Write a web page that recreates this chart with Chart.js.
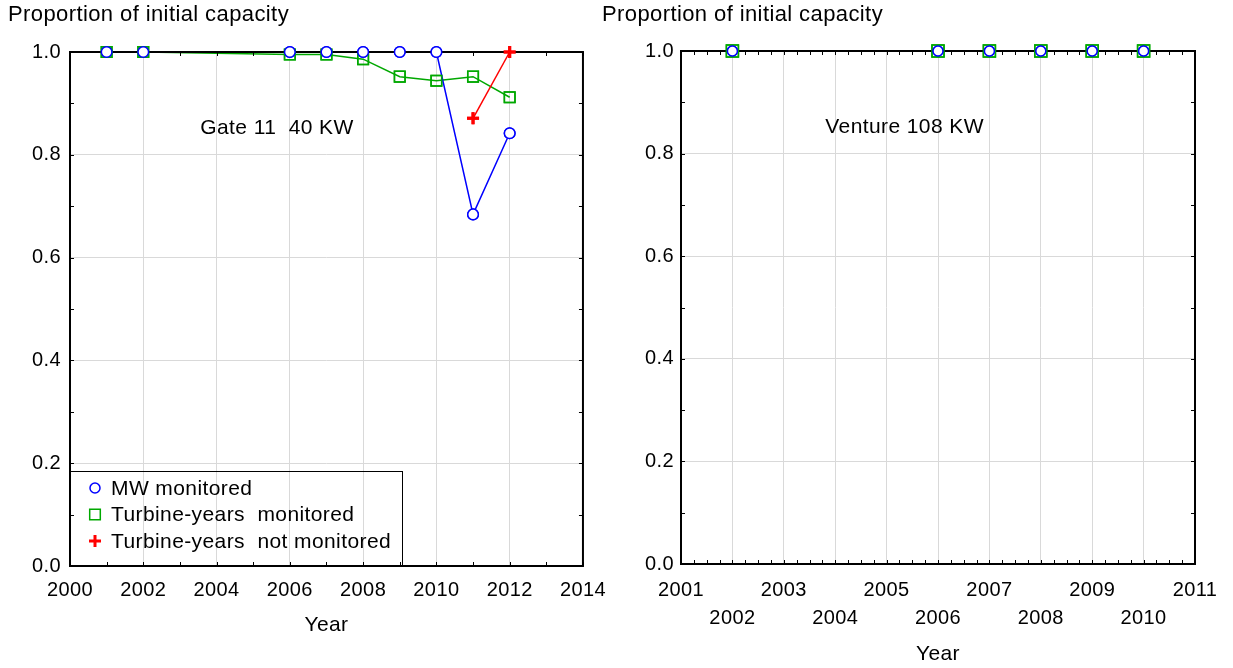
<!DOCTYPE html>
<html>
<head>
<meta charset="utf-8">
<script src="https://cdn.jsdelivr.net/npm/chart.js@4.4.1/dist/chart.umd.min.js"></script>
<style>
html, body { margin: 0; padding: 0; background: #fff; }
#wrap { position: relative; width: 1233px; height: 668px; overflow: hidden; }
#gateChart { position: absolute; left: 0; top: 0; }
#ventureChart { position: absolute; left: 600px; top: 0; }
</style>
</head>
<body>
<div id="wrap">
  <canvas id="gateChart" width="616" height="668"></canvas>
  <canvas id="ventureChart" width="633" height="668"></canvas>
</div>
<script>
// Data
const gateYears = [2001, 2002, 2006, 2007, 2008, 2009, 2010, 2011, 2012];
const gateMW = [1.0, 1.0, 1.0, 1.0, 1.0, 1.0, 1.0, 0.684, 0.842];
const gateTurbine = [1.0, 1.0, 0.995, 0.995, 0.986, 0.952, 0.944, 0.952, 0.912];
const gateNotMonYears = [2011, 2012];
const gateNotMon = [0.871, 1.0];

const ventureYears = [2002, 2006, 2007, 2008, 2009, 2010];
const ventureMW = [1.0, 1.0, 1.0, 1.0, 1.0, 1.0];
const ventureTurbine = [1.0, 1.0, 1.0, 1.0, 1.0, 1.0];

const yTicks = [0, 0.2, 0.4, 0.6, 0.8, 1.0];
const gateXTicks = [2000, 2002, 2004, 2006, 2008, 2010, 2012, 2014];
const ventureXTicks = [2001, 2002, 2003, 2004, 2005, 2006, 2007, 2008, 2009, 2010, 2011];

const seriesNames = ['MW monitored', 'Turbine-years  monitored', 'Turbine-years  not monitored'];
const yTitle = 'Proportion of initial capacity';
const xTitle = 'Year';
const gateNote = { text: 'Gate 11  40 KW', x: 2005.65, y: 0.852 };
const ventureNote = { text: 'Venture 108 KW', x: 2005.35, y: 0.852 };

const BLUE = '#0000ff';
const GREEN = '#00a800';
const RED = '#ff0000';
const GRID = '#d9d9d9';
const FONT = '"Liberation Sans", Arial, sans-serif';
const SPACING = '0.4px';

Chart.defaults.font.family = FONT;
Chart.defaults.font.size = 20;
Chart.defaults.color = '#000';

const pts = (xs, ys) => xs.map((x, i) => ({ x: x, y: ys[i] }));

function mwSet(xs, ys, r) {
    return {
        label: seriesNames[0], data: pts(xs, ys), order: 2, clip: false,
        borderColor: BLUE, borderWidth: 1.5, pointStyle: 'circle', pointRadius: r,
        pointBorderColor: BLUE, pointBackgroundColor: '#fff', pointBorderWidth: 1.5,
        legendRadius: 5
    };
}
function turbineSet(xs, ys, r) {
    return {
        label: seriesNames[1], data: pts(xs, ys), order: 3, clip: false,
        borderColor: GREEN, borderWidth: 1.5, pointStyle: 'rect', pointRadius: r,
        pointBorderColor: GREEN, pointBackgroundColor: 'rgba(255,255,255,0)', pointBorderWidth: 1.5,
        legendRadius: 7.5
    };
}
function notMonSet(xs, ys) {
    return {
        label: seriesNames[2], data: pts(xs, ys), order: 1, clip: false,
        borderColor: RED, borderWidth: 1.5, pointStyle: 'cross', pointRadius: 6,
        pointBorderColor: RED, pointBorderWidth: 3,
        legendRadius: 6
    };
}

// frame, minor ticks, titles, note and legend
const decor = {
    id: 'decor',
    beforeUpdate(chart) { chart.ctx.letterSpacing = SPACING; },
    beforeLayout(chart) { chart.ctx.letterSpacing = SPACING; },
    beforeDraw(chart) { chart.ctx.letterSpacing = SPACING; },
    afterDatasetsDraw(chart, args, opts) {
        const { ctx, chartArea: a } = chart;
        const x = chart.scales.x, y = chart.scales.y;
        ctx.save();
        ctx.strokeStyle = '#000';
        ctx.lineWidth = 1;
        ctx.beginPath();
        const nx = Math.round((x.max - x.min) / opts.xMinor);
        for (let i = 0; i <= nx; i++) {
            const px = Math.round(x.getPixelForValue(x.min + i * opts.xMinor)) + 0.5;
            ctx.moveTo(px, a.bottom); ctx.lineTo(px, a.bottom - 4);
            ctx.moveTo(px, a.top); ctx.lineTo(px, a.top + 4);
        }
        const ny = Math.round((y.max - y.min) / opts.yMinor);
        for (let i = 0; i <= ny; i++) {
            const py = Math.round(y.getPixelForValue(y.min + i * opts.yMinor)) + 0.5;
            ctx.moveTo(a.left, py); ctx.lineTo(a.left + 4, py);
            ctx.moveTo(a.right, py); ctx.lineTo(a.right - 4, py);
        }
        ctx.stroke();
        ctx.lineWidth = 2;
        ctx.strokeRect(a.left, a.top, a.right - a.left, a.bottom - a.top);
        ctx.restore();

        // markers sit on top of the frame
        const idx = chart.data.datasets.map((d, i) => i)
            .sort((i, j) => chart.data.datasets[j].order - chart.data.datasets[i].order);
        idx.forEach(i => chart.getDatasetMeta(i).data.forEach(p => p.draw(ctx)));
    },
    afterDraw(chart, args, opts) {
        const { ctx, chartArea: a } = chart;
        const x = chart.scales.x, y = chart.scales.y;
        ctx.save();
        ctx.letterSpacing = SPACING;
        ctx.fillStyle = '#000';
        ctx.textBaseline = 'middle';

        ctx.font = '22px ' + FONT;
        ctx.textAlign = 'left';
        ctx.fillText(yTitle, opts.titleX, 15);

        ctx.font = '21px ' + FONT;
        ctx.textAlign = 'center';
        ctx.fillText(opts.note.text, x.getPixelForValue(opts.note.x), y.getPixelForValue(opts.note.y));

        if (opts.legend) {
            const bw = 332, bh = 95;
            const bx = a.left, by = a.bottom - bh;
            ctx.strokeStyle = '#000';
            ctx.lineWidth = 1;
            ctx.strokeRect(bx + 0.5, by + 0.5, bw, bh);
            ctx.textAlign = 'left';
            chart.data.datasets.forEach((d, i) => {
                const cy = by + 17 + i * 26.5;
                ctx.strokeStyle = d.pointBorderColor;
                ctx.fillStyle = 'rgba(255,255,255,0)';
                ctx.lineWidth = d.pointBorderWidth;
                Chart.helpers.drawPoint(ctx, {
                    pointStyle: d.pointStyle, radius: d.legendRadius,
                    borderWidth: d.pointBorderWidth, rotation: 0
                }, bx + 25, cy);
                ctx.fillStyle = '#000';
                ctx.fillText(d.label, bx + 41, cy + 1);
            });
        }
        ctx.restore();
    }
};

function makeOptions(cfg) {
    return {
        responsive: false,
        animation: false,
        layout: { padding: { left: 0, top: cfg.top, right: cfg.right, bottom: 0 } },
        plugins: {
            legend: { display: false },
            tooltip: { enabled: false },
            decor: cfg.decor
        },
        scales: {
            x: {
                type: 'linear', min: cfg.xMin, max: cfg.xMax,
                afterBuildTicks: s => { s.ticks = cfg.xTicks.map(v => ({ value: v })); },
                ticks: {
                    autoSkip: false, maxRotation: 0, padding: cfg.xPad,
                    font: { size: 20, lineHeight: '28px' },
                    callback: cfg.xLabel
                },
                grid: { color: GRID, lineWidth: 1, drawTicks: false },
                border: { display: false },
                title: {
                    display: true, text: xTitle, color: '#000',
                    font: { size: 21, lineHeight: 1.2 },
                    padding: { top: 0, bottom: cfg.xTitlePad }
                },
                afterFit: s => { s.height = cfg.xHeight; }
            },
            y: {
                min: 0, max: 1,
                afterBuildTicks: s => { s.ticks = yTicks.map(v => ({ value: v })); },
                ticks: { padding: cfg.yPad, callback: v => v.toFixed(1) },
                grid: { color: GRID, lineWidth: 1, drawTicks: false },
                border: { display: false },
                afterFit: s => { s.width = cfg.yWidth; }
            }
        }
    };
}

new Chart(document.getElementById('gateChart'), {
    type: 'line',
    data: {
        datasets: [
            mwSet(gateYears, gateMW, 5.3),
            turbineSet(gateYears, gateTurbine, 7.5),
            notMonSet(gateNotMonYears, gateNotMon)
        ]
    },
    options: makeOptions({
        top: 52, right: 33, xMin: 2000, xMax: 2014, xTicks: gateXTicks,
        xLabel: v => String(v), xPad: 10, xTitlePad: 30, xHeight: 102,
        yPad: 9, yWidth: 70,
        decor: { xMinor: 1, yMinor: 0.1, titleX: 8, note: gateNote, legend: true }
    }),
    plugins: [decor]
});

new Chart(document.getElementById('ventureChart'), {
    type: 'line',
    data: {
        datasets: [
            mwSet(ventureYears, ventureMW, 5),
            turbineSet(ventureYears, ventureTurbine, 8.5)
        ]
    },
    options: makeOptions({
        top: 51, right: 38, xMin: 2001, xMax: 2011, xTicks: ventureXTicks,
        xLabel: v => ((v - 2001) % 2 === 0 ? [String(v)] : ['', String(v)]),
        xPad: 12, xTitlePad: 1, xHeight: 104,
        yPad: 7, yWidth: 81,
        decor: { xMinor: 0.25, yMinor: 0.1, titleX: 2, note: ventureNote, legend: false }
    }),
    plugins: [decor]
});
</script>
</body>
</html>
